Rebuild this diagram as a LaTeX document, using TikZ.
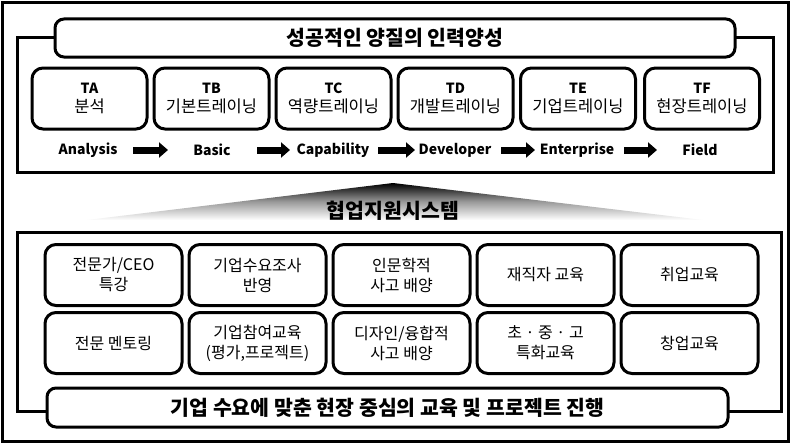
\documentclass[tikz,border=0pt]{standalone}
\usepackage{fontspec}
\setmainfont{Noto Sans CJK KR}
\usetikzlibrary{arrows.meta}
\begin{document}
\begin{tikzpicture}[x=1pt,y=-1pt,
  frame/.style={draw=black,line width=3pt},
  headbox/.style={draw=black,line width=3pt,rounded corners=9pt,fill=white,inner sep=0pt,
    font=\fontsize{20.5}{24}\selectfont\bfseries},
  tbox/.style={draw=black,line width=3pt,rounded corners=11pt,fill=white,inner sep=0pt,
    minimum width=115pt,minimum height=61pt,align=center,font=\fontsize{16.5}{18.5}\selectfont},
  gbox/.style={draw=black,line width=3pt,rounded corners=11pt,fill=white,inner sep=0pt,
    minimum width=137pt,minimum height=61pt,align=center,font=\fontsize{16}{20}\selectfont},
  stage/.style={inner sep=0pt,font=\fontsize{14}{17}\selectfont\bfseries},
  bigarrow/.style={line width=7pt,-{Triangle[width=15pt,length=9pt]}}]
\useasboundingbox (0,0) rectangle (791,444);
% outer frame
\draw[frame] (2.5,2.5) rectangle (788,441);
% upper section
\draw[frame] (17,38) rectangle (773,172);
\node[headbox,minimum width=680pt,minimum height=38pt] (title) at (395,38) {성공적인 양질의 인력양성};
\node[tbox] (ta) at (89.5,98.5)  {{\fontsize{14}{18.5}\selectfont\bfseries TA}\\분석};
\node[tbox] (tb) at (211.5,98.5) {{\fontsize{14}{18.5}\selectfont\bfseries TB}\\기본트레이닝};
\node[tbox] (tc) at (333.5,98.5) {{\fontsize{14}{18.5}\selectfont\bfseries TC}\\역량트레이닝};
\node[tbox] (td) at (455.5,98.5) {{\fontsize{14}{18.5}\selectfont\bfseries TD}\\개발트레이닝};
\node[tbox] (te) at (578,98.5)   {{\fontsize{14}{18.5}\selectfont\bfseries TE}\\기업트레이닝};
\node[tbox] (tf) at (702,98.5)   {{\fontsize{14}{18.5}\selectfont\bfseries TF}\\현장트레이닝};
\node[stage] (la) at (88,150)  {Analysis};
\node[stage] (lb) at (212,150) {Basic};
\node[stage] (lc) at (333,150) {Capability};
\node[stage] (ld) at (455,150) {Developer};
\node[stage] (le) at (577,150) {Enterprise};
\node[stage] (lf) at (700,150) {Field};
\coordinate (a1s) at (133,150); \coordinate (a1e) at (168,150);
\coordinate (a2s) at (257,150); \coordinate (a2e) at (290,150);
\coordinate (a3s) at (378,150); \coordinate (a3e) at (415,150);
\coordinate (a4s) at (501,150); \coordinate (a4e) at (535,150);
\coordinate (a5s) at (624,150); \coordinate (a5e) at (657,150);
\draw[bigarrow] (a1s) -- (a1e);
\draw[bigarrow] (a2s) -- (a2e);
\draw[bigarrow] (a3s) -- (a3e);
\draw[bigarrow] (a4s) -- (a4e);
\draw[bigarrow] (a5s) -- (a5e);
% wedge
\shade[top color=black,bottom color=white,middle color=black!40] (87,220) -- (393,183) -- (703,220) -- cycle;
\node[inner sep=0pt,font=\fontsize{20.5}{24}\selectfont\bfseries] (sys) at (393,211) {협업지원시스템};
% lower section
\draw[frame] (17,232) rectangle (781,411);
\node[gbox] (g11) at (113.5,275) {전문가/CEO\\특강};
\node[gbox] (g12) at (257.5,275) {기업수요조사\\반영};
\node[gbox] (g13) at (401.5,275) {인문학적\\사고 배양};
\node[gbox] (g14) at (545.5,275) {재직자 교육};
\node[gbox] (g15) at (689.5,275) {취업교육};
\node[gbox] (g21) at (113.5,343) {전문 멘토링};
\node[gbox] (g22) at (257.5,343) {기업참여교육\\(평가,프로젝트)};
\node[gbox] (g23) at (401.5,343) {디자인/융합적\\사고 배양};
\node[gbox] (g24) at (545.5,343) {초 · 중 · 고\\특화교육};
\node[gbox] (g25) at (689.5,343) {창업교육};
\node[headbox,minimum width=681pt,minimum height=39pt] (bar) at (387.5,407.5) {기업 수요에 맞춘 현장 중심의 교육 및 프로젝트 진행};
\end{tikzpicture}
\end{document}
